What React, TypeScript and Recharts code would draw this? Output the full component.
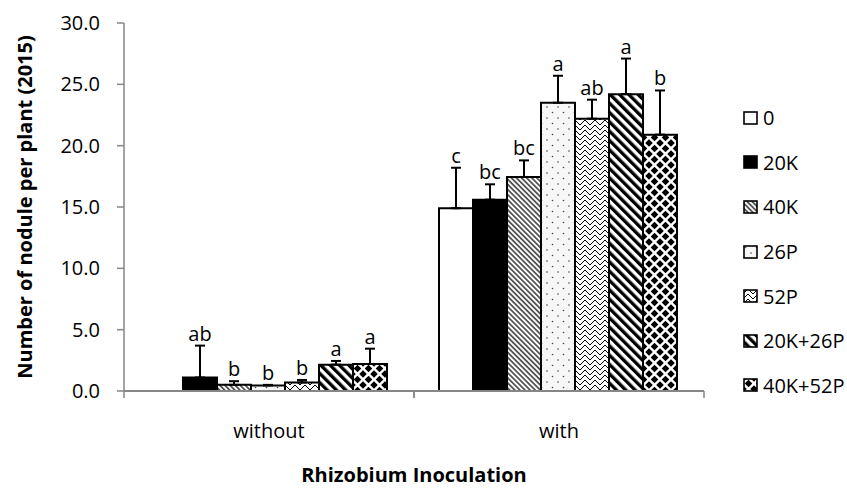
import React from 'react'
import { BarChart, Bar, XAxis, YAxis, ErrorBar, LabelList, Label } from 'recharts'

const categories = ['without', 'with']
const treatments = ['0', '20K', '40K', '26P', '52P', '20K+26P', '40K+52P']

// mean number of nodules per plant, per inoculation level (in treatment order)
const withoutMeans = [0, 1.1, 0.5, 0.45, 0.7, 2.15, 2.2]
const withMeans = [14.9, 15.6, 17.45, 23.5, 22.2, 24.2, 20.9]

// upper error bar length
const withoutErr = [0, 2.6, 0.3, 0.05, 0.2, 0.3, 1.25]
const withErr = [3.3, 1.25, 1.35, 2.2, 1.55, 2.9, 3.6]

// significance letters
const withoutLetters = ['', 'ab', 'b', 'b', 'b', 'a', 'a']
const withLetters = ['c', 'bc', 'bc', 'a', 'ab', 'a', 'b']

const yTicks = [0, 5, 10, 15, 20, 25, 30]

const W = 847
const H = 488
const MARGIN = { top: 23, right: 143, left: 4, bottom: 0 }
const Y_AXIS_W = 120
const X_AXIS_H = 97
const Y_MAX = 30
const PLOT_TOP = MARGIN.top
const PLOT_BOTTOM = H - MARGIN.bottom - X_AXIS_H
const PLOT_W = W - MARGIN.left - MARGIN.right - Y_AXIS_W
const PX_PER_UNIT = (PLOT_BOTTOM - PLOT_TOP) / Y_MAX
const AXIS_GRAY = '#868686'
const FONT = '"Open Sans", sans-serif'

const means = [withoutMeans, withMeans]
const errs = [withoutErr, withErr]
const letters = [withoutLetters, withLetters]

// letter label carries its error length so it can sit above the cap
const data = categories.map((cat, ci) => {
  const row: Record<string, any> = { name: cat }
  treatments.forEach((_, i) => {
    row[`m${i}`] = means[ci][i]
    row[`e${i}`] = errs[ci][i] > 0 ? [0, errs[ci][i]] : null
    row[`l${i}`] = letters[ci][i] ? `${letters[ci][i]}|${errs[ci][i]}` : ''
  })
  return row
})

const fills = treatments.map((_, i) => (i === 0 ? '#fff' : i === 1 ? '#000' : `url(#pat${i})`))

function Patterns() {
  return (
    <defs>
      <pattern id="pat2" width="3.6" height="3.6" patternUnits="userSpaceOnUse" patternTransform="rotate(-45)">
        <rect width="3.6" height="3.6" fill="#fff" />
        <line x1="1.8" y1="0" x2="1.8" y2="3.6" stroke="#000" strokeWidth="1.2" />
      </pattern>
      <pattern id="pat3" width="11" height="11" patternUnits="userSpaceOnUse">
        <rect width="11" height="11" fill="#f7f7f7" />
        <circle cx="2.5" cy="2.5" r="0.8" fill="#444" />
        <circle cx="8" cy="8" r="0.8" fill="#444" />
      </pattern>
      <pattern id="pat4" width="10" height="10" patternUnits="userSpaceOnUse">
        <rect width="10" height="10" fill="#fff" />
        <path d="M0,5 L5,0 L10,5 M0,10 L5,5 L10,10" stroke="#000" strokeWidth="1" fill="none" />
      </pattern>
      <pattern id="pat5" width="6.6" height="6.6" patternUnits="userSpaceOnUse" patternTransform="rotate(-45)">
        <rect width="6.6" height="6.6" fill="#fff" />
        <rect x="0" y="0" width="3.3" height="6.6" fill="#000" />
      </pattern>
      <pattern id="pat6" width="11" height="11" patternUnits="userSpaceOnUse">
        <rect width="11" height="11" fill="#fff" />
        <path
          d="M5.5,1.7 L9.3,5.5 L5.5,9.3 L1.7,5.5 Z M0,-3.8 L3.8,0 L0,3.8 L-3.8,0 Z M11,-3.8 L14.8,0 L11,3.8 L7.2,0 Z M0,7.2 L3.8,11 L0,14.8 L-3.8,11 Z M11,7.2 L14.8,11 L11,14.8 L7.2,11 Z"
          fill="#000"
        />
      </pattern>
    </defs>
  )
}

function CategoryTick(props: any) {
  const { x, payload } = props
  const half = PLOT_W / categories.length / 2
  return (
    <g>
      <line x1={x - half} x2={x - half} y1={PLOT_BOTTOM} y2={PLOT_BOTTOM + 7} stroke={AXIS_GRAY} strokeWidth={1.5} />
      <line x1={x + half} x2={x + half} y1={PLOT_BOTTOM} y2={PLOT_BOTTOM + 7} stroke={AXIS_GRAY} strokeWidth={1.5} />
      <text x={x} y={PLOT_BOTTOM + 47} textAnchor="middle" fontSize={20} fill="#000" fontFamily={FONT}>
        {payload.value}
      </text>
    </g>
  )
}

function LetterLabel(p: any) {
  const { x, y, width, value } = p
  if (!value) return null
  const [letter, err] = String(value).split('|')
  return (
    <text
      x={x + width / 2}
      y={y - Number(err) * PX_PER_UNIT - 5}
      textAnchor="middle"
      fontSize={20}
      fill="#000"
      fontFamily={FONT}
    >
      {letter}
    </text>
  )
}

function LegendBox() {
  return (
    <div style={{ position: 'absolute', left: 743, top: 96, fontFamily: FONT, fontSize: 20 }}>
      {treatments.map((t, i) => (
        <div key={t} style={{ height: 44.6, display: 'flex', alignItems: 'center' }}>
          <svg width={16} height={15} style={{ marginRight: 4 }}>
            <rect x={1} y={1} width={13} height={12} fill={fills[i]} stroke="#000" strokeWidth={1.6} />
          </svg>
          <span style={{ color: '#000', lineHeight: 1 }}>{t}</span>
        </div>
      ))}
    </div>
  )
}

export default function App() {
  return (
    <div style={{ position: 'relative', width: W, height: H, fontFamily: FONT, background: '#fff' }}>
      <style>{'body{margin:0}'}</style>
      <BarChart width={W} height={H} data={data} margin={MARGIN} barCategoryGap={25} barGap={0}>
        <Patterns />
        <XAxis
          dataKey="name"
          height={X_AXIS_H}
          tickLine={false}
          axisLine={{ stroke: AXIS_GRAY, strokeWidth: 2 }}
          tick={<CategoryTick />}
          interval={0}
        >
          <Label
            value="Rhizobium Inoculation"
            position="insideBottom"
            offset={6}
            style={{ fontWeight: 'bold', fontSize: 20, fill: '#000', fontFamily: FONT }}
          />
        </XAxis>
        <YAxis
          width={Y_AXIS_W}
          domain={[0, Y_MAX]}
          ticks={yTicks}
          interval={0}
          tickFormatter={(v) => Number(v).toFixed(1)}
          tick={{ fill: '#000', fontSize: 20, fontFamily: FONT }}
          tickSize={7}
          tickMargin={17}
          axisLine={{ stroke: AXIS_GRAY, strokeWidth: 1.5 }}
          tickLine={{ stroke: AXIS_GRAY, strokeWidth: 1.5 }}
        >
          <Label
            value="Number of nodule per plant (2015)"
            angle={-90}
            position="insideLeft"
            offset={21}
            style={{ textAnchor: 'middle', fontWeight: 'bold', fontSize: 20, fill: '#000', fontFamily: FONT }}
          />
        </YAxis>
        {treatments.map((t, i) => (
          <Bar
            key={t}
            name={t}
            dataKey={`m${i}`}
            fill={fills[i]}
            stroke="#000"
            strokeWidth={2}
            isAnimationActive={false}
          >
            <ErrorBar dataKey={`e${i}`} width={5} stroke="#000" strokeWidth={2} direction="y" />
            <LabelList dataKey={`l${i}`} content={<LetterLabel />} />
          </Bar>
        ))}
      </BarChart>
      <LegendBox />
    </div>
  )
}
